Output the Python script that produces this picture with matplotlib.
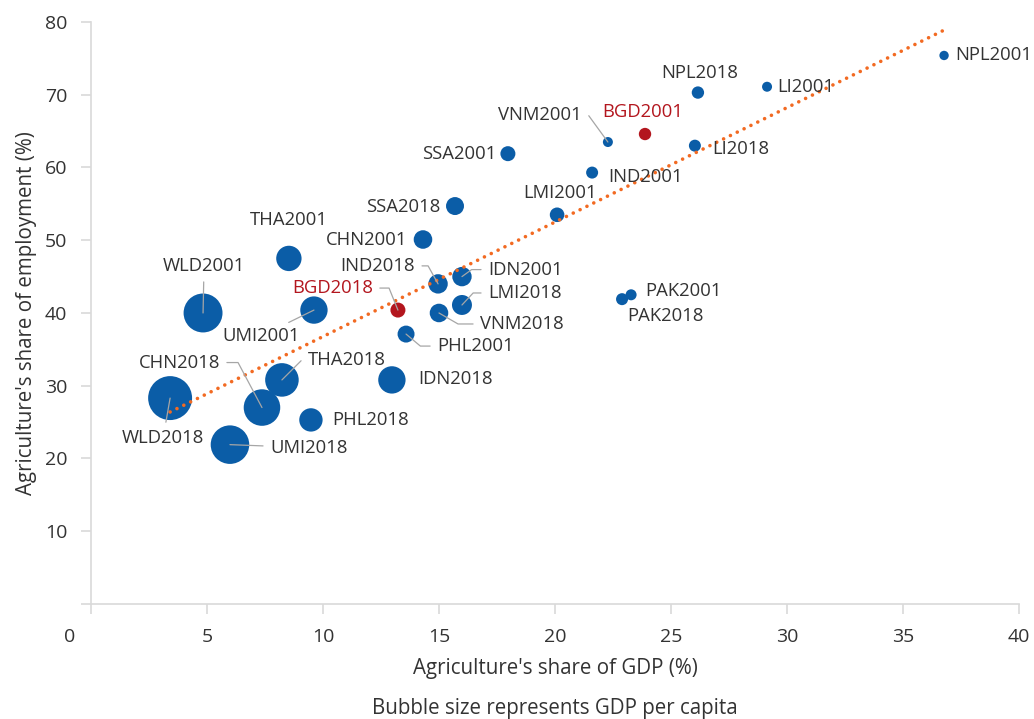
import numpy as np
import matplotlib
matplotlib.use("Agg")
from matplotlib import pyplot as plt
import matplotlib.transforms as mtransforms

plt.rcParams['font.family'] = ['Open Sans', 'DejaVu Sans']

# data
labels = ["NPL2001", "LI2001", "NPL2018", "BGD2001", "VNM2001", "LI2018",
          "SSA2001", "IND2001", "SSA2018", "LMI2001", "CHN2001", "THA2001",
          "IDN2001", "IND2018", "PAK2001", "PAK2018", "LMI2018", "WLD2001",
          "UMI2001", "BGD2018", "VNM2018", "PHL2001", "IDN2018", "THA2018",
          "CHN2018", "WLD2018", "PHL2018", "UMI2018"]
gdp_share = [36.77, 29.14, 26.16, 23.88, 22.28, 26.03,
             17.97, 21.60, 15.69, 20.09, 14.31, 8.53,
             15.99, 14.96, 23.28, 22.89, 15.99, 4.83,
             9.61, 13.23, 15.00, 13.58, 12.97, 8.23,
             7.37, 3.41, 9.48, 5.99]
emp_share = [75.4, 71.1, 70.3, 64.6, 63.5, 63.0,
             61.9, 59.3, 54.7, 53.5, 50.1, 47.5,
             45.0, 44.0, 42.5, 41.9, 41.1, 40.0,
             40.4, 40.4, 40.0, 37.1, 30.8, 30.8,
             27.0, 28.3, 25.3, 21.9]
# GDP per capita (thousand US$, approx.)
gdp_pc = [0.50, 0.57, 0.87, 0.87, 0.57, 0.82,
          1.28, 0.82, 1.84, 1.21, 1.96, 3.66,
          2.14, 2.14, 0.69, 0.82, 2.27, 8.63,
          4.26, 1.28, 1.96, 1.64, 4.26, 6.41,
          7.60, 11.0, 3.11, 8.46]
highlight = ["BGD2001", "BGD2018"]

# label placement: (dx px, dy px, ha, leader angle at the bubble or None)
# "s" = straight leader
label_pos = {
    "NPL2001": (11, 0, "left", None), "LI2001": (10, 0, "left", None),
    "NPL2018": (2, 20, "center", None), "BGD2001": (-2, 22, "center", None),
    "VNM2001": (-26, 27, "right", 126), "LI2018": (17, -3, "left", None),
    "SSA2001": (-11, 0, "right", None), "IND2001": (16, -4, "left", None),
    "SSA2018": (-15, -1, "right", None), "LMI2001": (3, 22, "center", None),
    "CHN2001": (-16, 0, "right", None), "THA2001": (0, 38, "center", None),
    "IDN2001": (26, 7, "left", 36), "IND2018": (-23, 18, "right", 119),
    "PAK2001": (14, 4, "left", None), "PAK2018": (5, -17, "left", None),
    "LMI2018": (26, 12, "left", 47), "WLD2001": (1, 47, "center", "s"),
    "UMI2001": (-53, -26, "center", "s"), "BGD2018": (-25, 22, "right", 112),
    "VNM2018": (41, -11, "left", -30), "PHL2001": (31, -12, "left", -40),
    "IDN2018": (26, 1, "left", None), "THA2018": (26, 20, "left", 45),
    "CHN2018": (-42, 45, "right", 118), "WLD2018": (-7, -40, "center", "s"),
    "PHL2018": (21, 0, "left", None), "UMI2018": (40, -3, "left", "s"),
}

blue = "#0B5DA7"
red = "#B3161E"
orange = "#F26A22"
grey = "#D9D9D9"
txt = "#333333"

fig = plt.figure(figsize=(10.34, 7.19), dpi=100)
ax = fig.add_axes([0.088, 0.16, 0.8975, 0.8094])

x = np.array(gdp_share)
y = np.array(emp_share)
colors = [red if l in highlight else blue for l in labels]
ax.scatter(x, y, s=np.array(gdp_pc) * 91, c=colors, edgecolors="none", zorder=3)

# linear trend line
coef = np.polyfit(x, y, 1)
xt = np.array([x.min(), x.max()])
ax.plot(xt, np.polyval(coef, xt), color=orange, lw=2.6,
        ls=(0, (0.01, 2.1)), dash_capstyle="round", zorder=4)

for l, xi, yi in zip(labels, x, y):
    dx, dy, ha, lead = label_pos[l]
    col = red if l in highlight else txt
    ap = None
    if lead == "s":
        ap = dict(arrowstyle="-", color="#A6A6A6", lw=0.9, shrinkA=3, shrinkB=0)
    elif lead is not None:
        ap = dict(arrowstyle="-", color="#A6A6A6", lw=0.9, shrinkA=3, shrinkB=0,
                  connectionstyle="angle,angleA=0,angleB=%d,rad=0" % lead)
    ax.annotate(l, (xi, yi), xytext=(dx, dy), textcoords="offset pixels",
                ha=ha, va="center", fontsize=13.3, color=col,
                arrowprops=ap, zorder=5)

ax.set_xlim(0, 40)
ax.set_ylim(0, 80)
ax.set_xticks(range(0, 41, 5))
ax.set_yticks(range(0, 81, 10))
ax.set_yticklabels([""] + [str(v) for v in range(10, 81, 10)])
for s in ["top", "right"]:
    ax.spines[s].set_visible(False)
for s in ["left", "bottom"]:
    ax.spines[s].set_color(grey)
    ax.spines[s].set_linewidth(1.2)
ax.tick_params(axis="both", colors=grey, labelcolor=txt, labelsize=14,
               length=7, width=1.2)
ax.tick_params(axis="x", pad=10)
ax.tick_params(axis="y", pad=10)

# first x label sits left of the axis origin
lab0 = ax.get_xticklabels()[0]
lab0.set_transform(lab0.get_transform() +
                   mtransforms.ScaledTranslation(-21 / 100, 0, fig.dpi_scale_trans))

ax.set_xlabel("Agriculture's share of GDP (%)", fontsize=14.8, color=txt, labelpad=9)
ax.set_ylabel("Agriculture's share of employment (%)", fontsize=14.8, color=txt, labelpad=6)
fig.text(0.5367, 0.0, "Bubble size represents GDP per capita", ha="center",
         va="bottom", fontsize=14.8, color=txt)

fig.savefig("out.png", dpi=100)
